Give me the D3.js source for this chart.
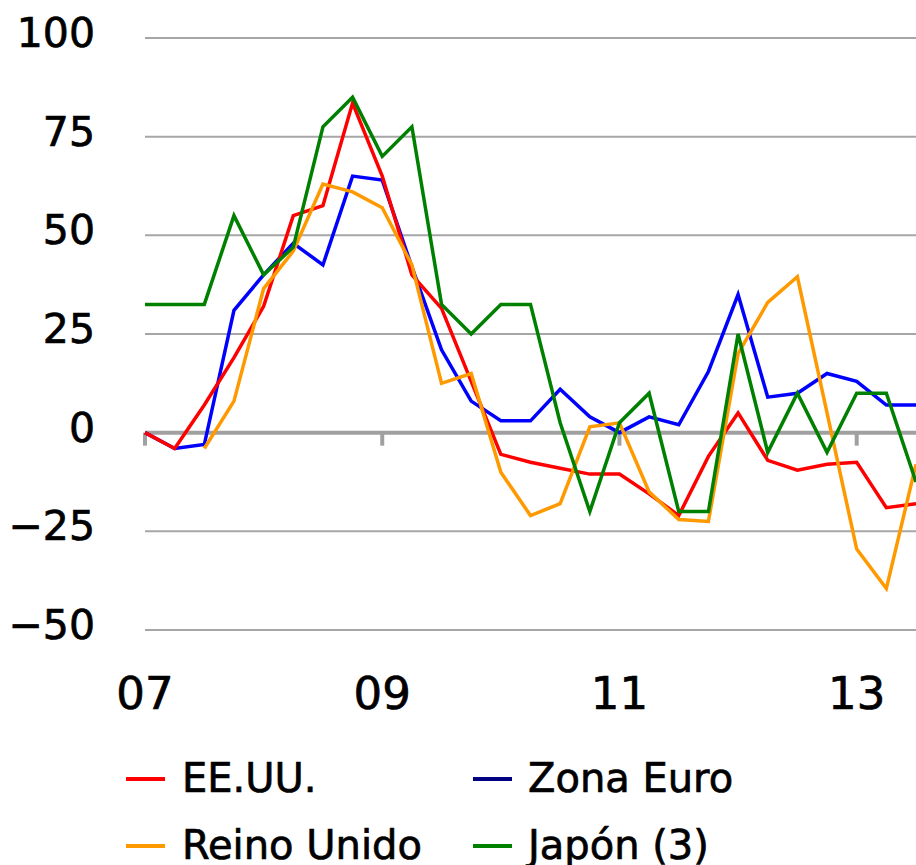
<!DOCTYPE html>
<html>
<head>
<meta charset="utf-8">
<script src="https://cdn.jsdelivr.net/npm/d3@7"></script>
<style>
	body { margin: 0; background: #fff; }
	svg { display: block; }
</style>
</head>
<body>
<svg id="chart" width="916" height="865"></svg>
<script>
// Quarterly values, 2007 Q1 .. 2013 Q3
const quarters = d3.range(27);
const yearTicks = [0, 8, 16, 24];
const yearLabels = ["07", "09", "11", "13"];
const yTicks = [-50, -25, 0, 25, 50, 75, 100];
const yLabels = ["\u221250", "\u221225", "0", "25", "50", "75", "100"];

const eeuu = [0, -4, 7, 19, 32, 55, 57.5, 83.5, 65, 40, 31.5, 13, -5.5, -7.5, -9, -10.5, -10.5, -15.5, -21, -6, 5, -7, -9.5, -8, -7.5, -19, -18];
const zonaEuro = [0, -4, -3, 31, 40, 48, 42.5, 65, 64, 42, 21, 8, 3, 3, 11, 4, 0, 4, 2, 15.5, 35, 9, 10, 15, 13, 7, 7];
const reinoUnido = [null, null, -4, 8, 36.5, 46, 63, 61, 57, 42.5, 12.5, 15, -10, -21, -18, 1.5, 2.5, -15, -22, -22.5, 20, 33, 39.5, 5, -29.5, -39.5, -8];
const japon = [32.5, 32.5, 32.5, 55, 40, 47, 77.5, 85, 70, 77.5, 32.5, 25, 32.5, 32.5, 2.5, -20, 2.5, 10, -20, -20, 25, -5, 10, -5, 10, 10, -12.5];

const seriesNames = ["EE.UU.", "Zona Euro", "Reino Unido", "Japón (3)"];
const seriesColors = ["#ff0000", "#0000ff", "#ff9900", "#008000"];
const legendColors = ["#ff0000", "#000080", "#ff9900", "#008000"];

const svg = d3.select("#chart");
const font = "'DejaVu Sans', sans-serif";

const x = d3.scaleLinear().domain([0, 26]).range([145, 916]);
const y = d3.scaleLinear().domain([-50, 100]).range([630, 38]);

// grid
svg.append("g")
	.selectAll("line")
	.data(yTicks.filter((d) => d !== 0))
	.join("line")
	.attr("x1", x(0))
	.attr("x2", 916)
	.attr("y1", (d) => y(d))
	.attr("y2", (d) => y(d))
	.attr("stroke", "#a6a6a6")
	.attr("stroke-width", 2);

// y labels (slight stroke to get the semi-bold look)
svg.append("g")
	.style("font-family", font)
	.style("font-size", "41px")
	.attr("text-anchor", "end")
	.attr("stroke", "#000")
	.attr("stroke-width", 0.7)
	.selectAll("text")
	.data(yTicks)
	.join("text")
	.attr("x", 95)
	.attr("y", (d) => y(d) + 9)
	.text((d, i) => yLabels[i]);

// zero axis with ticks
svg.append("line")
	.attr("x1", x(0))
	.attr("x2", 916)
	.attr("y1", y(0))
	.attr("y2", y(0))
	.attr("stroke", "#a0a0a0")
	.attr("stroke-width", 4);

svg.append("g")
	.selectAll("line")
	.data(yearTicks)
	.join("line")
	.attr("x1", (d) => x(d))
	.attr("x2", (d) => x(d))
	.attr("y1", y(0))
	.attr("y2", y(0) + 13)
	.attr("stroke", "#a0a0a0")
	.attr("stroke-width", 4);

// x labels
svg.append("g")
	.style("font-family", font)
	.style("font-size", "45px")
	.attr("text-anchor", "middle")
	.attr("stroke", "#000")
	.attr("stroke-width", 0.7)
	.selectAll("text")
	.data(yearTicks)
	.join("text")
	.attr("x", (d) => x(d))
	.attr("y", 709)
	.text((d, i) => yearLabels[i]);

// lines
const line = d3.line()
	.defined((d) => d != null)
	.x((d, i) => x(quarters[i]))
	.y((d) => y(d));

const allSeries = [eeuu, zonaEuro, reinoUnido, japon];
const drawOrder = [1, 0, 2, 3];

svg.append("g")
	.attr("fill", "none")
	.attr("stroke-width", 3.5)
	.selectAll("path")
	.data(drawOrder)
	.join("path")
	.attr("stroke", (k) => seriesColors[k])
	.attr("d", (k) => line(allSeries[k]));

// legend
const legendPos = [[126, 779], [473, 779], [126, 846], [473, 846]];
const legend = svg.append("g")
	.style("font-family", font)
	.style("font-size", "40px")
	.selectAll("g")
	.data(seriesNames)
	.join("g")
	.attr("transform", (d, i) => `translate(${legendPos[i][0]},${legendPos[i][1]})`);

legend.append("line")
	.attr("x1", 0)
	.attr("x2", 39)
	.attr("stroke", (d, i) => legendColors[i])
	.attr("stroke-width", 4);

legend.append("text")
	.attr("x", (d, i) => (i % 2 === 0 ? 56 : 55))
	.attr("y", 13)
	.attr("stroke", "#000")
	.attr("stroke-width", 0.7)
	.text((d) => d);
</script>
</body>
</html>
